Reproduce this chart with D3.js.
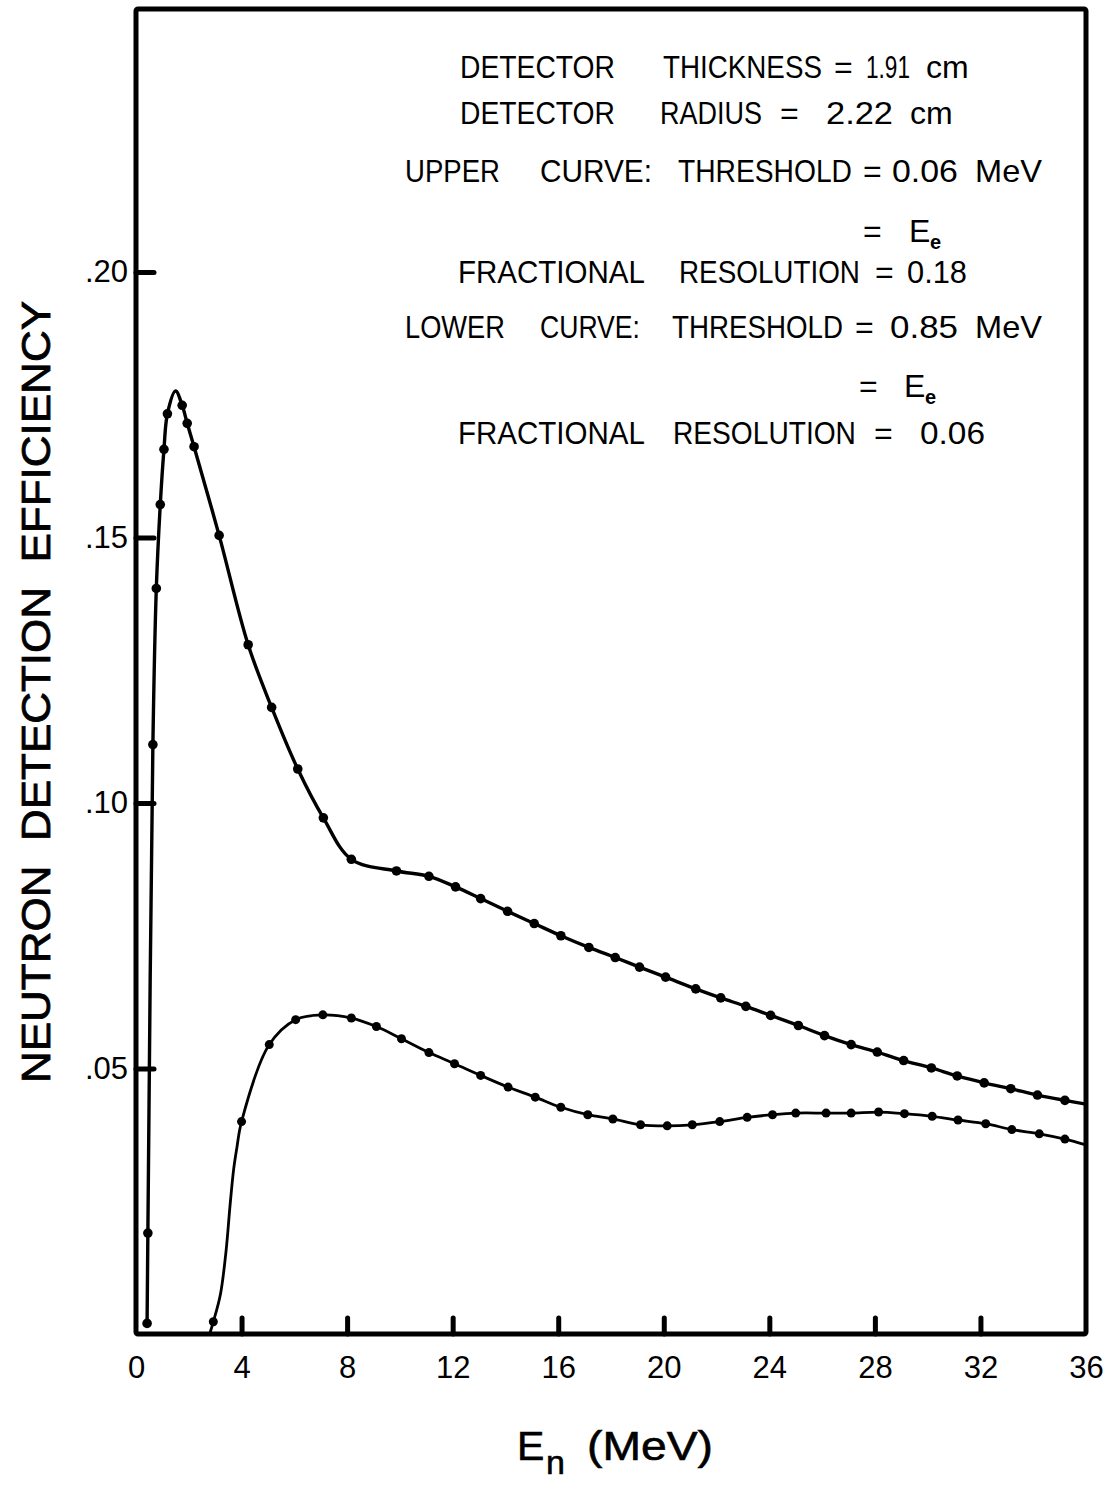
<!DOCTYPE html>
<html>
<head>
<meta charset="utf-8">
<script src="https://cdn.jsdelivr.net/npm/d3@7"></script>
<style>
  html, body { margin: 0; padding: 0; background: #fff; }
  svg { display: block; }
  text { font-family: "Liberation Sans", "DejaVu Sans", sans-serif; fill: #000; }
</style>
</head>
<body>
<svg id="chart" width="1116" height="1485"></svg>
<script>
// ---- data: neutron detection efficiency vs. neutron energy ----
const xTicks = [0, 4, 8, 12, 16, 20, 24, 28, 32, 36];
const yTicks = [0.05, 0.10, 0.15, 0.20];
const yTickLabels = [".05", ".10", ".15", ".20"];

// upper curve (threshold 0.06 MeV), measured points shown as dots
const upperE   = [0.42, 0.45, 0.64, 0.77, 0.92, 1.06, 1.19, 1.75, 1.94, 2.20, 3.15, 4.25, 5.14, 6.13, 7.10, 8.16,
                  9.87, 11.10, 12.11, 13.06, 14.08, 15.09, 16.10, 17.16, 18.16, 19.08, 20.07, 21.21, 22.16, 23.11,
                  24.05, 25.10, 26.09, 27.10, 28.09, 29.09, 30.14, 31.12, 32.14, 33.15, 34.16, 35.20];
const upperEff = [0.0020, 0.0190, 0.1110, 0.1404, 0.1562, 0.1666, 0.1733, 0.1749, 0.1715, 0.1671, 0.1504, 0.1298,
                  0.1180, 0.1064, 0.0972, 0.0894, 0.0872, 0.0862, 0.0842, 0.0820, 0.0796, 0.0773, 0.0750, 0.0728,
                  0.0709, 0.0691, 0.0672, 0.0650, 0.0633, 0.0617, 0.0600, 0.0581, 0.0562, 0.0545, 0.0531, 0.0515,
                  0.0501, 0.0486, 0.0473, 0.0462, 0.0450, 0.0440];
// extra vertices of the upper curve that carry no dot (peak and right end)
const upperExtraE   = [1.50, 36.0];
const upperExtraEff = [0.1776, 0.0433];

// lower curve (threshold 0.85 MeV)
const lowerE   = [2.93, 4.00, 5.05, 6.05, 7.08, 8.16, 9.11, 10.06, 11.10, 12.07, 13.06, 14.10, 15.13, 16.10, 17.12,
                  18.07, 19.12, 20.13, 21.08, 22.12, 23.16, 24.12, 25.00, 26.15, 27.10, 28.14, 29.12, 30.17, 31.15,
                  32.20, 33.19, 34.23, 35.20];
const lowerEff = [0.0023, 0.0400, 0.0545, 0.0592, 0.0601, 0.0595, 0.0579, 0.0556, 0.0530, 0.0509, 0.0487, 0.0465,
                  0.0446, 0.0427, 0.0413, 0.0405, 0.0394, 0.0392, 0.0394, 0.0400, 0.0408, 0.0413, 0.0416, 0.0416,
                  0.0416, 0.0418, 0.0415, 0.0410, 0.0403, 0.0396, 0.0385, 0.0377, 0.0367];
// undotted vertices of the lower curve: onset, steep rise, right end
const lowerExtraE   = [2.79, 3.20, 3.42, 3.56, 3.70, 3.82, 36.0];
const lowerExtraEff = [0.0000, 0.0075, 0.0160, 0.0240, 0.0310, 0.0350, 0.0356];

// ---- layout ----
const svg = d3.select("#chart");
const x = d3.scaleLinear().domain([0, 36]).range([136, 1086]);
const y = d3.scaleLinear().domain([0, 0.25]).range([1334, 6.5]);

const pts = (es, vs) => es.map((e, i) => ({ e: e, v: vs[i] }));
const byE = (a, b) => a.e - b.e;

const upperDots = pts(upperE, upperEff);
const upperLine = upperDots.concat(pts(upperExtraE, upperExtraEff)).sort(byE);
const lowerDots = pts(lowerE, lowerEff);
const lowerLine = lowerDots.concat(pts(lowerExtraE, lowerExtraEff)).sort(byE);

// frame
svg.append("rect")
  .attr("x", x(0)).attr("y", 9)
  .attr("width", x(36) - x(0)).attr("height", y(0) - 9)
  .attr("fill", "none").attr("stroke", "#000")
  .attr("stroke-width", 5).attr("stroke-linejoin", "round").attr("rx", 2);

// x axis, ticks pointing into the plot
const xAxis = svg.append("g")
  .attr("transform", `translate(0,${y(0)})`)
  .call(d3.axisBottom(x).tickValues(xTicks).tickSize(-16).tickPadding(22).tickFormat(d3.format("d")));
xAxis.select(".domain").remove();
xAxis.selectAll(".tick line").attr("stroke", "#000").attr("stroke-width", 5).attr("stroke-linecap", "round");
xAxis.selectAll(".tick text").attr("font-size", 31).attr("fill", "#000")
  .style("font-family", "'Liberation Sans', sans-serif");
// the end ticks sit on the frame itself
xAxis.selectAll(".tick").filter(d => d === 0 || d === 36).select("line").remove();

// y axis
const yAxis = svg.append("g")
  .attr("transform", `translate(${x(0)},0)`)
  .call(d3.axisLeft(y).tickValues(yTicks).tickSize(-18).tickPadding(8)
    .tickFormat((d, i) => yTickLabels[i]));
yAxis.select(".domain").remove();
yAxis.selectAll(".tick line").attr("stroke", "#000").attr("stroke-width", 5).attr("stroke-linecap", "round");
yAxis.selectAll(".tick text").attr("font-size", 31).attr("fill", "#000")
  .style("font-family", "'Liberation Sans', sans-serif");

// curves
const line = d3.line().x(d => x(d.e)).y(d => y(d.v)).curve(d3.curveCatmullRom.alpha(0.5));

svg.append("path").datum(upperLine).attr("d", line)
  .attr("fill", "none").attr("stroke", "#000").attr("stroke-width", 3.4).attr("stroke-linejoin", "round");
svg.append("path").datum(lowerLine).attr("d", line)
  .attr("fill", "none").attr("stroke", "#000").attr("stroke-width", 2.8).attr("stroke-linejoin", "round");

svg.append("g").selectAll("circle").data(upperDots).join("circle")
  .attr("cx", d => x(d.e)).attr("cy", d => y(d.v)).attr("r", 4.8).attr("fill", "#000");
svg.append("g").selectAll("circle").data(lowerDots).join("circle")
  .attr("cx", d => x(d.e)).attr("cy", d => y(d.v)).attr("r", 4.5).attr("fill", "#000");

// axis titles
svg.append("text")
  .attr("transform", "translate(50,692) rotate(-90)")
  .attr("text-anchor", "middle")
  .attr("font-size", 41)
  .attr("stroke", "#000").attr("stroke-width", 0.8)
  .attr("textLength", 782).attr("lengthAdjust", "spacingAndGlyphs")
  .style("white-space", "pre")
  .text("NEUTRON  DETECTION  EFFICIENCY");

const xt = svg.append("g").attr("font-size", 41).attr("stroke", "#000").attr("stroke-width", 0.6);
xt.append("text").attr("x", 517).attr("y", 1460).text("E");
xt.append("text").attr("x", 546).attr("y", 1474).attr("font-size", 34).text("n");
const mev = xt.append("text").attr("x", 0).attr("y", 0).text("(MeV)");
mev.attr("transform", `translate(587,1460) scale(${126 / mev.node().getComputedTextLength()},1)`);

// annotation block: each word is placed from its left edge; a word with a
// right edge is squeezed horizontally to that width (condensed lettering)
const note = svg.append("g").attr("font-size", 32);
function seg(txt, x0, x1, base) {
  const t = note.append("text").attr("x", 0).attr("y", 0).text(txt);
  let sx = 1;
  if (x1 != null) sx = (x1 - x0) / t.node().getComputedTextLength();
  t.attr("transform", `translate(${x0},${base}) scale(${sx},1)`);
  return t;
}
function lines(items, base) { items.forEach(s => seg(s[0], s[1], s[2], base)); }

lines([["DETECTOR", 460, 615], ["THICKNESS", 663, 822], ["=", 834], ["1.91", 866, 910], ["cm", 926]], 78);
lines([["DETECTOR", 460, 615], ["RADIUS", 660, 762], ["=", 780], ["2.22", 826, 893], ["cm", 910]], 124);
lines([["UPPER", 405, 500], ["CURVE:", 540, 652], ["THRESHOLD", 678, 852], ["=", 863], ["0.06", 892, 958], ["MeV", 975, 1042]], 182);
lines([["=", 863], ["E", 909]], 242);
lines([["FRACTIONAL", 458, 645], ["RESOLUTION", 679, 860], ["=", 875], ["0.18", 907, 967]], 283);
lines([["LOWER", 405, 505], ["CURVE:", 540, 640], ["THRESHOLD", 672, 843], ["=", 855], ["0.85", 890, 958], ["MeV", 975, 1042]], 338);
lines([["=", 859], ["E", 904]], 397);
lines([["FRACTIONAL", 458, 645], ["RESOLUTION", 673, 856], ["=", 874], ["0.06", 920, 985]], 444);
note.append("text").attr("x", 930).attr("y", 249).attr("font-size", 20).attr("font-weight", "bold").text("e");
note.append("text").attr("x", 925).attr("y", 404).attr("font-size", 20).attr("font-weight", "bold").text("e");
</script>
</body>
</html>
